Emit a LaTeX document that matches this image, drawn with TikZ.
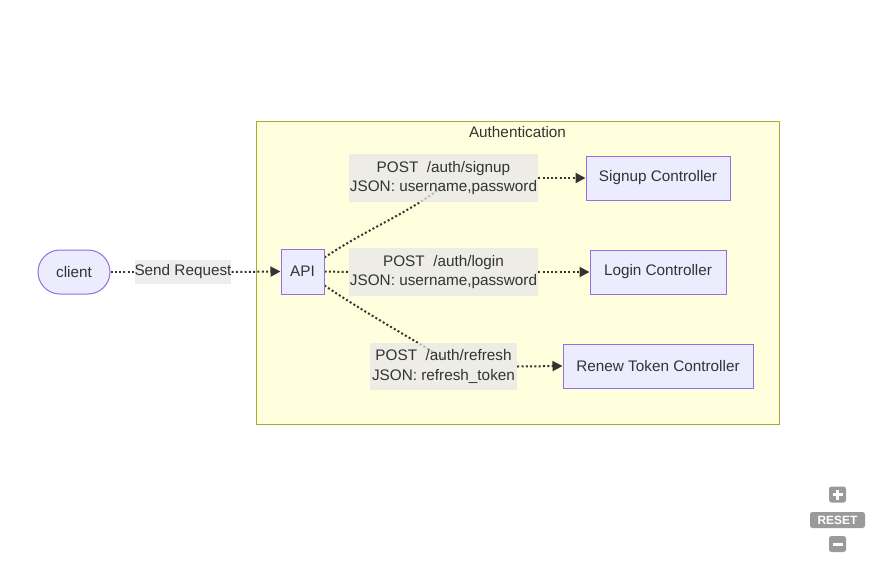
\documentclass[tikz,border=0pt]{standalone}
\usepackage{fontspec}
\setmainfont{Liberation Sans}
\usetikzlibrary{arrows.meta,calc}
\definecolor{nodefill}{HTML}{ECECFF}
\definecolor{nodeline}{HTML}{9370DB}
\definecolor{clusterfill}{HTML}{FFFFDE}
\definecolor{clusterline}{HTML}{AAAA33}
\definecolor{edgecol}{HTML}{333333}
\definecolor{labelbg}{HTML}{E8E8E8}
\definecolor{textcol}{HTML}{333333}
\definecolor{ctrlgray}{HTML}{9A9A9A}
\pgfdeclarelayer{bg}
\pgfdeclarelayer{edges}
\pgfsetlayers{bg,edges,main}
\tikzset{
  base/.style={font=\fontsize{15.3}{19.5}\selectfont, text=textcol, inner sep=0pt, align=center},
  box/.style={base, draw=nodeline, fill=nodefill, line width=1pt},
  pill/.style={box, rounded corners=22pt},
  elabel/.style={base, fill=labelbg, fill opacity=0.75, text opacity=1},
  flow/.style={draw=edgecol, line width=2pt, dash pattern=on 2pt off 2.3pt},
  tip/.style={-{Triangle[length=10pt,width=10pt]}},
  ctrl/.style={fill=ctrlgray, rounded corners=2.5pt, inner sep=0pt}
}
\begin{document}
\begin{tikzpicture}[x=1pt,y=-1pt]
\useasboundingbox (0,0) rectangle (885,560);
\begin{pgfonlayer}{bg}
  \fill[white] (0,0) rectangle (885,560);
  \node[draw=clusterline, fill=clusterfill, line width=1pt, minimum width=523pt, minimum height=303pt, inner sep=0pt] (auth) at (517.5,272.5) {};
\end{pgfonlayer}
\node[base] (authtitle) at (517.5,132.5) {Authentication};

\node[pill, minimum width=72pt, minimum height=44pt] (client) at (74,272) {client};
\node[box, minimum width=43pt, minimum height=45pt] (api) at (302.5,271.5) {API};
\node[box, minimum width=144pt, minimum height=44pt] (signup) at (658,178) {Signup Controller};
\node[box, minimum width=136pt, minimum height=44pt] (login) at (658,272) {Login Controller};
\node[box, minimum width=190pt, minimum height=44pt] (renew) at (658,366) {Renew Token Controller};

\node[elabel, minimum width=96pt, minimum height=24pt] (lsend) at (183,272) {Send Request};
\node[elabel, minimum width=189pt, minimum height=48pt] (lsignup) at (443.5,178) {POST\ \ /auth/signup\\JSON: username,password};
\node[elabel, minimum width=189pt, minimum height=48pt] (llogin) at (443.5,272) {POST\ \ /auth/login\\JSON: username,password};
\node[elabel, minimum width=147pt, minimum height=47pt] (lrefresh) at (443.5,366.5) {POST\ \ /auth/refresh\\JSON: refresh\_token};

\begin{pgfonlayer}{edges}
  \draw[flow] ([yshift=-9pt]api.north east) .. controls +(45,-30) and +(-40,30) .. ([yshift=-8pt]lsignup.center);
  \draw[flow] ([yshift=9pt]api.south east) .. controls +(45,30) and +(-40,-25) .. ([yshift=8pt]lrefresh.center);
  \draw[flow] (client.east) -- (lsend.west);
  \draw[flow] (api.east) -- (llogin.west);
\end{pgfonlayer}
\draw[flow, tip] (lsend.east) -- (api.west);
\draw[flow, tip] (lsignup.east) -- (signup.west);
\draw[flow, tip] (llogin.east) -- (login.west);
\draw[flow, tip] (lrefresh.east) -- (renew.west);

% zoom controls
\node[ctrl, minimum width=17pt, minimum height=16pt] (zplus) at (837.5,494.5) {};
\draw[white, line width=3pt] ($(zplus.center)+(-5,0)$) -- ($(zplus.center)+(5,0)$);
\draw[white, line width=3pt] ($(zplus.center)+(0,-5)$) -- ($(zplus.center)+(0,5)$);
\node[ctrl, minimum width=55pt, minimum height=16pt, text=white, font=\bfseries\fontsize{12}{12}\selectfont] (zreset) at (837.5,520) {RESET};
\node[ctrl, minimum width=17pt, minimum height=16pt] (zminus) at (837.5,544) {};
\draw[white, line width=3pt] ($(zminus.center)+(-5,0)$) -- ($(zminus.center)+(5,0)$);
\end{tikzpicture}
\end{document}
